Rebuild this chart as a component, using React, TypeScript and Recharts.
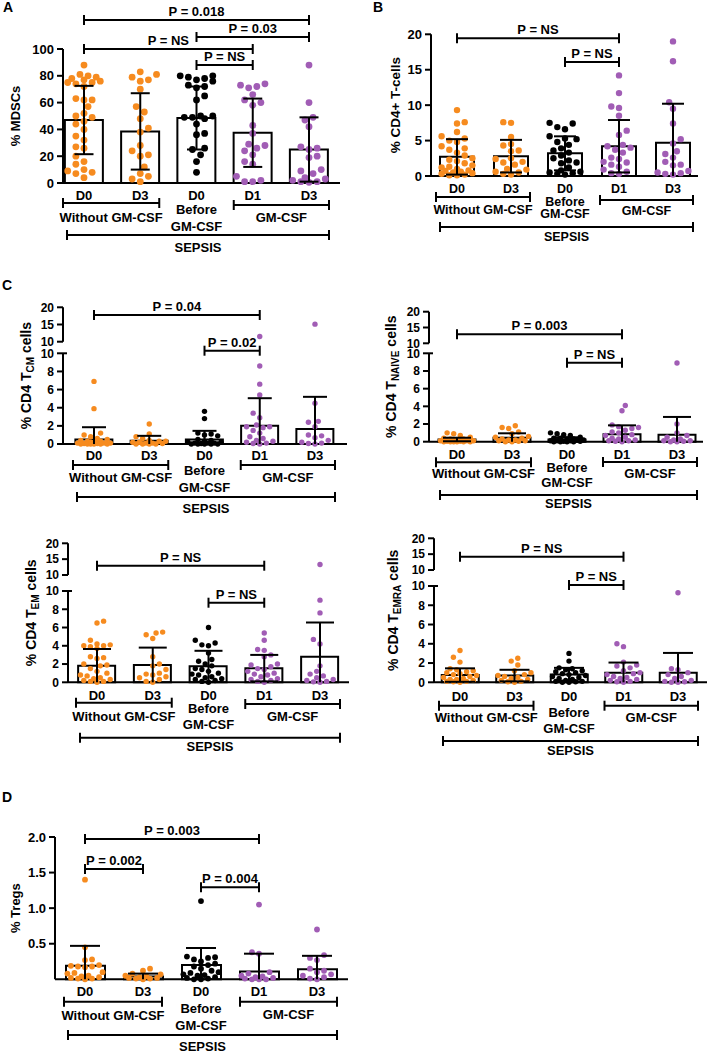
import React from 'react';
import { ComposedChart, Bar, Scatter, XAxis, YAxis, ReferenceLine } from 'recharts';

const FONT = 'Arial, "Liberation Sans", Helvetica, sans-serif';
const ORANGE = '#F68B1F';
const BLACK = '#000000';
const PURPLE = '#A15DB5';

const groupLabels = ['D0', 'D3', 'D0', 'D1', 'D3'];
const groupColors = [ORANGE, ORANGE, BLACK, PURPLE, PURPLE];

// ---------- Panel A: % MDSCs ----------
const mdscMeans = [47, 38.5, 48.5, 37.5, 25];
const mdscSD = [25.5, 28.5, 23.5, 25.5, 24];
const mdscWithoutD0 = [88, 81, 80, 79, 78, 77, 76, 75, 75, 74, 72, 63, 62, 62, 57, 52, 50, 49, 46, 44, 40, 35, 32, 27, 26, 20, 16, 14, 10, 9, 8, 7, 4];
const mdscWithoutD3 = [83, 81, 79, 77, 76, 70, 57, 53, 48, 41, 38, 28, 24, 21, 20, 12, 7, 5, 3, 1];
const mdscBeforeD0 = [80, 80, 79, 78, 77, 76, 73, 72, 71, 65, 62, 50, 50, 49, 49, 48, 44, 37, 36, 26, 25, 21, 16, 8];
const mdscGmD1 = [74, 73, 72, 71, 66, 62, 60, 58, 43, 37, 29, 28, 26, 24, 21, 16, 14, 5, 2, 1, 1];
const mdscGmD3 = [88, 60, 49, 47, 42, 27, 26, 25, 20, 19, 10, 9, 7, 4, 3, 2, 1, 1, 0.5];

// ---------- Panel B: % CD4+ T-cells ----------
const cd4Means = [2.7, 2.8, 3.2, 4.2, 4.7];
const cd4SD = [2.5, 2.3, 2.4, 3.7, 5.5];
const cd4WithoutD0 = [9.3, 7.6, 7.4, 6.2, 5.6, 5.3, 5.0, 4.8, 4.2, 3.9, 3.7, 3.3, 2.9, 2.5, 2.3, 2.1, 1.8, 1.5, 1.3, 1.2, 1.0, 0.8, 0.7, 0.6, 0.5, 0.4, 0.3, 0.2, 0.1, 0.1];
const cd4WithoutD3 = [7.6, 7.5, 5.5, 4.5, 4.3, 3.6, 3.5, 2.5, 2.4, 2.0, 1.9, 1.6, 1.0, 0.9, 0.6, 0.5, 0.3, 0.2];
const cd4BeforeD0 = [7.5, 7.4, 6.9, 6.6, 5.6, 5.3, 5.2, 4.8, 4.4, 3.9, 3.6, 3.3, 2.9, 2.5, 2.2, 1.9, 1.8, 1.2, 0.8, 0.6, 0.5, 0.4, 0.3, 0.2];
const cd4GmD1 = [14.2, 11.7, 9.8, 9.6, 8.5, 6.4, 5.8, 4.4, 4.2, 4.0, 3.7, 3.3, 2.6, 2.4, 2.0, 1.9, 1.6, 1.3, 0.9, 0.6, 0.4, 0.3];
const cd4GmD3 = [19.0, 16.2, 10.4, 9.5, 7.4, 5.2, 4.6, 3.5, 3.1, 2.6, 2.0, 1.6, 1.5, 0.7, 0.5, 0.4, 0.3, 0.2];

// ---------- Panel C: CD4 TCM ----------
const tcmMeans = [0.5, 0.35, 0.5, 2.0, 1.65];
const tcmSD = [1.35, 0.55, 0.95, 3.05, 3.55];
const tcmWithoutD0 = [6.9, 3.9, 1.2, 1.0, 0.8, 0.6, 0.5, 0.4, 0.3, 0.3, 0.2, 0.2, 0.1, 0.1, 0.1, 0.05, 0.05, 0, 0, 0, 0, 0, 0];
const tcmWithoutD3 = [2.2, 1.1, 0.8, 0.6, 0.4, 0.3, 0.3, 0.2, 0.2, 0.1, 0.1, 0.05, 0, 0, 0, 0];
const tcmBeforeD0 = [3.6, 2.8, 1.2, 1.1, 1.0, 0.9, 0.5, 0.4, 0.3, 0.2, 0.2, 0.1, 0.1, 0.1, 0.05, 0, 0, 0, 0, 0];
const tcmGmD1 = [11.5, 8.6, 6.6, 5.4, 3.4, 2.9, 2.1, 1.9, 1.9, 1.8, 1.5, 1.2, 0.8, 0.6, 0.4, 0.3, 0.2, 0.1, 0.05, 0];
const tcmGmD3 = [15.1, 4.5, 2.5, 2.4, 1.9, 1.0, 0.9, 0.7, 0.4, 0.2, 0.1, 0.05, 0];

// ---------- Panel C: CD4 TNAIVE ----------
const naiveMeans = [0.25, 0.45, 0.25, 0.85, 0.8];
const naiveSD = [0.2, 0.5, 0.25, 1.0, 2.0];
const naiveWithoutD0 = [1.0, 0.9, 0.7, 0.5, 0.4, 0.3, 0.3, 0.2, 0.2, 0.1, 0.1, 0.1, 0.05, 0.05, 0, 0, 0, 0, 0, 0];
const naiveWithoutD3 = [1.8, 1.6, 1.5, 1.1, 0.9, 0.6, 0.5, 0.4, 0.3, 0.2, 0.2, 0.1, 0.1, 0.05, 0, 0];
const naiveBeforeD0 = [1.0, 0.9, 0.8, 0.7, 0.5, 0.4, 0.4, 0.3, 0.3, 0.2, 0.2, 0.1, 0.1, 0.1, 0.05, 0.05, 0, 0, 0, 0];
const naiveGmD1 = [4.1, 3.5, 1.9, 1.7, 1.6, 1.5, 1.3, 1.1, 1.0, 0.8, 0.7, 0.5, 0.4, 0.3, 0.2, 0.1, 0.1, 0.05, 0];
const naiveGmD3 = [8.9, 2.0, 1.0, 0.7, 0.5, 0.3, 0.2, 0.1, 0.1, 0.05, 0, 0];

// ---------- Panel C: CD4 TEM ----------
const temMeans = [1.8, 1.9, 1.75, 1.55, 2.8];
const temSD = [1.85, 1.9, 1.7, 1.45, 3.75];
const temWithoutD0 = [6.7, 6.5, 4.6, 4.2, 4.1, 4.0, 4.0, 3.9, 3.7, 2.8, 2.7, 2.6, 2.0, 1.9, 1.8, 1.5, 1.2, 1.0, 0.8, 0.7, 0.5, 0.4, 0.3, 0.2, 0.1, 0.1, 0];
const temWithoutD3 = [5.5, 5.4, 5.2, 4.8, 2.8, 2.0, 1.8, 1.4, 1.0, 0.9, 0.8, 0.6, 0.5, 0.3, 0.1, 0];
const temBeforeD0 = [6.0, 4.6, 4.3, 4.1, 4.0, 3.2, 2.5, 2.3, 2.0, 1.8, 1.5, 1.4, 1.2, 1.0, 0.9, 0.8, 0.6, 0.5, 0.4, 0.3, 0.2, 0.1, 0];
const temGmD1 = [5.4, 4.6, 3.6, 3.5, 3.0, 2.8, 2.0, 1.9, 1.7, 1.5, 1.4, 1.2, 1.0, 0.9, 0.8, 0.6, 0.4, 0.3, 0.2, 0.1, 0];
const temGmD3 = [13.3, 9.0, 7.6, 4.7, 4.2, 1.8, 1.2, 0.9, 0.7, 0.5, 0.3, 0.2, 0.1, 0.05, 0];

// ---------- Panel C: CD4 TEMRA ----------
const temraMeans = [0.75, 0.7, 0.8, 1.0, 1.0];
const temraSD = [0.7, 0.6, 0.7, 1.05, 2.05];
const temraWithoutD0 = [3.3, 2.6, 2.1, 1.4, 1.3, 1.2, 1.1, 1.0, 0.9, 0.8, 0.7, 0.6, 0.5, 0.4, 0.3, 0.3, 0.2, 0.1, 0.1, 0.05, 0];
const temraWithoutD3 = [2.5, 2.2, 1.8, 1.2, 1.0, 0.8, 0.7, 0.6, 0.5, 0.4, 0.3, 0.2, 0.1, 0.05, 0];
const temraBeforeD0 = [3.0, 2.2, 1.5, 1.4, 1.3, 1.2, 1.1, 1.0, 0.9, 0.8, 0.7, 0.6, 0.5, 0.4, 0.3, 0.2, 0.1, 0.1, 0.05, 0, 0];
const temraGmD1 = [4.0, 3.7, 2.1, 1.8, 1.7, 1.5, 1.2, 1.0, 0.9, 0.8, 0.6, 0.5, 0.4, 0.3, 0.2, 0.1, 0.05, 0];
const temraGmD3 = [9.3, 1.4, 1.3, 1.0, 0.8, 0.6, 0.4, 0.2, 0.1, 0.05, 0, 0];

// ---------- Panel D: % Tregs ----------
const tregMeans = [0.19, 0.04, 0.2, 0.11, 0.14];
const tregSD = [0.28, 0.04, 0.24, 0.25, 0.19];
const tregWithoutD0 = [1.4, 0.45, 0.28, 0.27, 0.2, 0.19, 0.18, 0.18, 0.17, 0.1, 0.09, 0.08, 0.05, 0.04, 0.03, 0.02, 0.01, 0.01, 0];
const tregWithoutD3 = [0.15, 0.12, 0.08, 0.07, 0.05, 0.04, 0.03, 0.02, 0.02, 0.01, 0.01, 0];
const tregBeforeD0 = [1.1, 0.32, 0.31, 0.3, 0.28, 0.25, 0.22, 0.2, 0.18, 0.15, 0.12, 0.1, 0.09, 0.07, 0.06, 0.05, 0.03, 0.02, 0.01, 0, 0];
const tregGmD1 = [1.05, 0.38, 0.36, 0.1, 0.08, 0.05, 0.04, 0.03, 0.02, 0.01, 0, 0, 0];
const tregGmD3 = [0.7, 0.34, 0.3, 0.27, 0.15, 0.12, 0.1, 0.07, 0.05, 0.03, 0.01, 0];

// tick labels
const mdscTicks = [0, 20, 40, 60, 80, 100];
const cd4Ticks = [0, 5, 10, 15, 20];
const lowerTicks = [0, 2, 4, 6, 8, 10];
const upperTicks = [10, 15, 20];
const tregTicks = [0.5, 1.0, 1.5, 2.0];

const ySub = (sub: string, size: number) => (
  <>
    <tspan>% CD4 T</tspan>
    <tspan fontSize={size - 4} dy={3}>{sub}</tspan>
    <tspan dy={-3}> cells</tspan>
  </>
);

function swarmOffsets(vals: number[], toPx: (v: number) => number, d: number, maxOff: number): number[] {
  const order = vals.map((_, i) => i).sort((a, b) => vals[a] - vals[b]);
  const placed: { x: number; y: number }[] = [];
  const out: number[] = new Array(vals.length).fill(0);
  const step = d * 0.55;
  order.forEach((i, k) => {
    const y = toPx(vals[i]);
    const sgn = k % 2 === 0 ? 1 : -1;
    const cands: number[] = [0];
    for (let m = 1; m * step <= maxOff; m++) cands.push(sgn * m * step, -sgn * m * step);
    let best = 0;
    let bestD = -1;
    for (const c of cands) {
      let minD = Infinity;
      for (const p of placed) {
        const dd = Math.hypot(p.x - c, p.y - y);
        if (dd < minD) minD = dd;
      }
      if (minD >= d) { best = c; break; }
      if (minD > bestD) { bestD = minD; best = c; }
    }
    placed.push({ x: best, y });
    out[i] = best;
  });
  return out;
}

const panels: any[] = [
  {
    key: 'A', divLeft: 0, divTop: 0, divW: 350, divH: 262,
    plotLeft: 63, plotRight: 340, plotTop: 49, plotBottom: 183, c1: 84, s: 56.25, barW: 38, capW: 19, r: 3.4,
    yMax: 100, ticks: mdscTicks, tickLabels: mdscTicks.map(String), fs: 13,
    yLabel: <tspan>% MDSCs</tspan>, yLabelX: 15, yLabelSize: 13,
    means: mdscMeans, sds: mdscSD, groups: [mdscWithoutD0, mdscWithoutD3, mdscBeforeD0, mdscGmD1, mdscGmD3],
    brackets: [
      { a: 3, b: 4, h: 118, text: 'P = NS' },
      { a: 1, b: 4, h: 134, text: 'P = NS' },
      { a: 3, b: 5, h: 146, text: 'P = 0.03' },
      { a: 1, b: 5, h: 163, text: 'P = 0.018' },
    ],
    below: { xl: 12, wl: 20, wt: 34, b1: 26, b2: 43, gl: 22, gt: 34, sl: 52, st: 64 },
  },
  {
    key: 'B', divLeft: 350, divTop: 0, divW: 358, divH: 250,
    plotLeft: 431, plotRight: 698, plotTop: 34.3, plotBottom: 176, c1: 457, s: 54, barW: 34, capW: 22, r: 3.2,
    yMax: 20, ticks: cd4Ticks, tickLabels: cd4Ticks.map(String), fs: 12.5,
    yLabel: <tspan>% CD4+ T-cells</tspan>, yLabelX: 395, yLabelSize: 13.5,
    means: cd4Means, sds: cd4SD, groups: [cd4WithoutD0, cd4WithoutD3, cd4BeforeD0, cd4GmD1, cd4GmD3],
    brackets: [
      { a: 1, b: 4, h: 137.7, text: 'P = NS' },
      { a: 3, b: 4, h: 114, text: 'P = NS' },
    ],
    below: { xl: 13, wl: 21, wt: 34, b1: 26, b2: 38, gl: 24, gt: 35, sl: 51, st: 61 },
  },
  {
    key: 'TCM', divLeft: 0, divTop: 295, divW: 350, divH: 225,
    plotLeft: 63, plotRight: 347, plotBottom: 444, c1: 94, s: 55.25, barW: 37, capW: 24, r: 2.7, fs: 13,
    broken: { pxL: 9.07, gap: 11.6, pxU: 3.44 },
    yLabel: ySub('CM', 14), yLabelX: 26, yLabelSize: 14,
    means: tcmMeans, sds: tcmSD, groups: [tcmWithoutD0, tcmWithoutD3, tcmBeforeD0, tcmGmD1, tcmGmD3],
    brackets: [
      { a: 1, b: 4, h: 129, text: 'P = 0.04' },
      { a: 3, b: 4, h: 93.3, text: 'P = 0.02' },
    ],
    below: { xl: 11, wl: 21, wt: 33, b1: 26, b2: 43, gl: 21, gt: 33, sl: 53, st: 64 },
  },
  {
    key: 'TNAIVE', divLeft: 350, divTop: 295, divW: 358, divH: 225,
    plotLeft: 429, plotRight: 703, plotBottom: 441.7, c1: 457, s: 55, barW: 37, capW: 28, r: 2.7, fs: 13,
    broken: { pxL: 8.84, gap: 10, pxU: 3.16 },
    yLabel: ySub('NAIVE', 14), yLabelX: 391, yLabelSize: 14,
    means: naiveMeans, sds: naiveSD, groups: [naiveWithoutD0, naiveWithoutD3, naiveBeforeD0, naiveGmD1, naiveGmD3],
    brackets: [
      { a: 1, b: 4, h: 107.4, text: 'P = 0.003' },
      { a: 3, b: 4, h: 79, text: 'P = NS' },
    ],
    below: { xl: 12.3, wl: 20.6, wt: 31.5, b1: 25.3, b2: 40.5, gl: 20.3, gt: 31.5, sl: 53.3, st: 61.3 },
  },
  {
    key: 'TEM', divLeft: 0, divTop: 528, divW: 350, divH: 235,
    plotLeft: 68, plotRight: 349, plotBottom: 682.3, c1: 97, s: 55.75, barW: 37, capW: 28, r: 2.7, fs: 13,
    broken: { pxL: 9.13, gap: 16, pxU: 3.17 },
    yLabel: ySub('EM', 14), yLabelX: 31, yLabelSize: 14,
    means: temMeans, sds: temSD, groups: [temWithoutD0, temWithoutD3, temBeforeD0, temGmD1, temGmD3],
    brackets: [
      { a: 1, b: 4, h: 116.6, text: 'P = NS' },
      { a: 3, b: 4, h: 79.6, text: 'P = NS' },
    ],
    below: { xl: 12.7, wl: 20.4, wt: 33.7, b1: 25.7, b2: 41.7, gl: 21.7, gt: 33.7, sl: 55.4, st: 64.4 },
  },
  {
    key: 'TEMRA', divLeft: 350, divTop: 525, divW: 358, divH: 235,
    plotLeft: 434, plotRight: 707, plotBottom: 682.3, c1: 460, s: 54.5, barW: 37, capW: 30, r: 2.7, fs: 13,
    broken: { pxL: 9.63, gap: 16, pxU: 3.17 },
    yLabel: ySub('EMRA', 14), yLabelX: 393, yLabelSize: 14,
    means: temraMeans, sds: temraSD, groups: [temraWithoutD0, temraWithoutD3, temraBeforeD0, temraGmD1, temraGmD3],
    brackets: [
      { a: 1, b: 4, h: 125.6, text: 'P = NS' },
      { a: 3, b: 4, h: 97.3, text: 'P = NS' },
    ],
    below: { xl: 13.7, wl: 23.4, wt: 34.7, b1: 29.7, b2: 45.7, gl: 23.4, gt: 34.7, sl: 58.7, st: 67.7 },
  },
  {
    key: 'D', divLeft: 0, divTop: 800, divW: 350, divH: 253,
    plotLeft: 55, plotRight: 348, plotTop: 837, plotBottom: 979.3, c1: 85, s: 58, barW: 39, capW: 30, r: 2.9,
    yMax: 2, ticks: tregTicks, tickLabels: tregTicks.map((v) => v.toFixed(1)), fs: 13,
    yLabel: <tspan>% Tregs</tspan>, yLabelX: 15, yLabelSize: 13,
    means: tregMeans, sds: tregSD, groups: [tregWithoutD0, tregWithoutD3, tregBeforeD0, tregGmD1, tregGmD3],
    brackets: [
      { a: 1, b: 4, h: 140.3, text: 'P = 0.003' },
      { a: 1, b: 2, h: 110.3, text: 'P = 0.002' },
      { a: 3, b: 4, h: 92, text: 'P = 0.004' },
    ],
    below: { xl: 12.4, wl: 22.4, wt: 35.7, b1: 28.7, b2: 45.7, gl: 22.4, gt: 34.7, sl: 55.7, st: 67.4 },
  },
];

const txt = (fs: number) => ({ fontSize: fs, fontWeight: 700, fontFamily: FONT, fill: '#000' } as any);

const centerLabel = (text: string, dy: number, fs: number) => (props: any) => {
  const vb = props.viewBox || { x: 0, y: 0, width: 0, height: 0 };
  return (
    <text x={vb.x + (vb.width || 0) / 2} y={vb.y + dy} dy="0.35em" textAnchor="middle" {...txt(fs)}>
      {text}
    </text>
  );
};

function Panel({ cfg }: { cfg: any }) {
  const YW = 45;
  const XH = 10;
  const { divLeft, divTop, divW, divH, plotLeft, plotRight, plotBottom, c1, s, below, fs } = cfg;
  const xMin = 1 - (c1 - plotLeft) / s;
  const xMax = 5 + (plotRight - (c1 + 4 * s)) / s;
  const plotW = plotRight - plotLeft;
  // hidden band axis for the bars, padded so its band centres fall on x = 1..5
  const padL = c1 - plotLeft - s / 2;
  const padR = plotW - 5 * s - padL;

  let disp: (v: number) => number;
  let ppu: number;
  let yTop: number;
  let plotTop: number;
  let yTicks: number[];
  let yTickLabels: string[];
  let up10 = 0;
  if (cfg.broken) {
    const { pxL, gap, pxU } = cfg.broken;
    const u = (v: number) => 10 + gap / pxL + (v - 10) * pxU / pxL;
    disp = (v: number) => (v <= 10 ? v : u(v));
    ppu = pxL;
    plotTop = plotBottom - (10 * pxL + gap + 10 * pxU);
    yTop = u(20);
    up10 = u(10);
    yTicks = [...lowerTicks, ...upperTicks.map(u)];
    yTickLabels = [...lowerTicks, ...upperTicks].map(String);
  } else {
    plotTop = cfg.plotTop;
    ppu = (plotBottom - plotTop) / cfg.yMax;
    disp = (v: number) => v;
    yTop = cfg.yMax;
    yTicks = cfg.ticks;
    yTickLabels = cfg.tickLabels;
  }
  const hy = (px: number) => px / ppu; // px above axis -> data units
  const hx = (px: number) => px / s; // px -> x units

  const barData = cfg.means.map((m: number, i: number) => ({ x: i + 1, cat: groupLabels[i] + '-' + (i + 1), mean: disp(m) }));
  const scatterSets = cfg.groups.map((vals: number[], gi: number) => {
    const offs = swarmOffsets(vals, (v) => disp(v) * ppu, 2 * cfg.r + 0.6, cfg.barW / 2);
    return vals.map((v, k) => ({ x: gi + 1 + offs[k] / s, y: disp(v) }));
  });

  const margin = {
    top: plotTop - divTop,
    right: divLeft + divW - plotRight,
    bottom: divTop + divH - plotBottom - XH,
    left: plotLeft - divLeft - YW,
  };
  const axisY = plotBottom - divTop;
  const lines: any[] = [];
  const seg = (key: string, x1: number, y1: number, x2: number, y2: number, label?: any) => {
    lines.push(
      <ReferenceLine
        key={key}
        segment={[{ x: x1, y: y1 }, { x: x2, y: y2 }]}
        stroke="#000"
        strokeWidth={2}
        ifOverflow="visible"
        label={label}
        {...({ zIndex: 650 } as any)}
      />
    );
  };

  // error bars (mean ± SD)
  cfg.means.forEach((m: number, i: number) => {
    const x = i + 1;
    const hi = disp(m + cfg.sds[i]);
    const loRaw = m - cfg.sds[i];
    const lo = Math.max(0, loRaw);
    const cw = hx(cfg.capW / 2);
    seg(`e${i}`, x, lo, x, hi);
    seg(`eh${i}`, x - cw, hi, x + cw, hi);
    if (loRaw > 0) seg(`el${i}`, x - cw, disp(lo), x + cw, disp(lo));
  });

  // significance brackets
  const tick = hy(5);
  cfg.brackets.forEach((b: any, i: number) => {
    const y = hy(b.h);
    seg(`b${i}`, b.a, y, b.b, y, centerLabel(b.text, -8.5, 13));
    seg(`bl${i}`, b.a, y - tick, b.a, y + tick);
    seg(`br${i}`, b.b, y - tick, b.b, y + tick);
  });

  // group brackets below the axis
  const groupBracket = (key: string, xa: number, xb: number, lineOff: number, textOff: number, text: string) => {
    const y = -hy(lineOff);
    seg(key, xa, y, xb, y, centerLabel(text, textOff - lineOff, fs));
    seg(key + 'l', xa, y - tick, xa, y + tick);
    seg(key + 'r', xb, y - tick, xb, y + tick);
  };
  groupBracket('gw', 1 - hx(21), 2 + hx(19), below.wl, below.wt, 'Without GM-CSF');
  groupBracket('gg', 4 - hx(19), 5 + hx(20), below.gl, below.gt, 'GM-CSF');
  groupBracket('gs', 1 - hx(17), 5 + hx(20), below.sl, below.st, 'SEPSIS');

  // broken axis segments
  if (cfg.broken) {
    seg('axL', xMin, 0, xMin, 10);
    seg('axU', xMin, up10, xMin, yTop);
    seg('brk', xMin, 10, xMin + hx(4), 10);
  }

  const renderXTick = (p: any) => {
    const i = Math.round(p.payload.value);
    return (
      <g>
        <text x={p.x} y={axisY + below.xl} dy="0.35em" textAnchor="middle" {...txt(fs)}>
          {groupLabels[i - 1]}
        </text>
        {i === 3 && (
          <text x={p.x} y={axisY + below.b1} dy="0.35em" textAnchor="middle" {...txt(fs)}>
            Before
          </text>
        )}
        {i === 3 && (
          <text x={p.x} y={axisY + below.b2} dy="0.35em" textAnchor="middle" {...txt(fs)}>
            GM-CSF
          </text>
        )}
      </g>
    );
  };

  const lx = cfg.yLabelX - divLeft;
  const ly = (plotTop + plotBottom) / 2 - divTop;
  const renderYLabel = () => (
    <text
      x={lx}
      y={ly}
      dy="0.35em"
      textAnchor="middle"
      transform={`rotate(-90, ${lx}, ${ly})`}
      fontSize={cfg.yLabelSize}
      fontWeight={700}
      fontFamily={FONT}
      fill="#000"
    >
      {cfg.yLabel}
    </text>
  );

  return (
    <div style={{ position: 'absolute', left: divLeft, top: divTop, width: divW, height: divH }}>
      <ComposedChart width={divW} height={divH} data={barData} margin={margin} barCategoryGap={0}>
        <XAxis
          type="number"
          dataKey="x"
          domain={[xMin, xMax]}
          ticks={[1, 2, 3, 4, 5]}
          interval={0}
          tickLine={false}
          tickSize={0}
          tickMargin={0}
          height={XH}
          axisLine={{ stroke: '#000', strokeWidth: 2 }}
          tick={renderXTick}
        />
        <XAxis xAxisId="band" type="category" dataKey="cat" hide padding={{ left: padL, right: padR }} />
        <YAxis
          type="number"
          domain={[0, yTop]}
          ticks={yTicks}
          interval={0}
          width={YW}
          tickFormatter={(v: any, i: number) => yTickLabels[i]}
          axisLine={cfg.broken ? false : { stroke: '#000', strokeWidth: 2 }}
          tickLine={{ stroke: '#000', strokeWidth: 2 }}
          tickSize={6}
          tickMargin={3}
          tick={{ fontSize: cfg.broken ? 12 : 13, fontWeight: 700, fill: '#000', fontFamily: FONT }}
          label={{ content: renderYLabel } as any}
        />
        <Bar
          xAxisId="band"
          dataKey="mean"
          fill="#fff"
          stroke="#000"
          strokeWidth={2}
          barSize={cfg.barW}
          isAnimationActive={false}
        />
        {scatterSets.map((pts: any[], gi: number) => (
          <Scatter
            key={`s${gi}`}
            data={pts}
            dataKey="y"
            fill={groupColors[gi]}
            isAnimationActive={false}
            shape={(p: any) => <circle cx={p.cx} cy={p.cy} r={cfg.r} fill={groupColors[gi]} />}
          />
        ))}
        {lines}
      </ComposedChart>
    </div>
  );
}

const letters = [
  { t: 'A', left: 3, top: 0 },
  { t: 'B', left: 373, top: 0 },
  { t: 'C', left: 2, top: 278 },
  { t: 'D', left: 2, top: 790 },
];

export default function App() {
  return (
    <div style={{ position: 'absolute', left: 0, top: 0, width: 708, height: 1053, background: '#fff', fontFamily: FONT }}>
      {panels.map((p) => (
        <Panel key={p.key} cfg={p} />
      ))}
      {letters.map((l) => (
        <div
          key={l.t}
          style={{ position: 'absolute', left: l.left, top: l.top, fontSize: 14, fontWeight: 700, lineHeight: '14px', color: '#000' }}
        >
          {l.t}
        </div>
      ))}
    </div>
  );
}
